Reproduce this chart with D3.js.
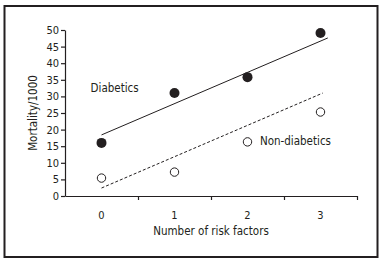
<!DOCTYPE html>
<html>
<head>
<meta charset="utf-8">
<script src="https://cdn.jsdelivr.net/npm/d3@7"></script>
<style>
  html, body { margin: 0; padding: 0; background: #fff; }
  svg text { font-family: "Liberation Sans Narrow", "DejaVu Sans Condensed", "Arial Narrow", sans-serif; fill: #231f20; }
</style>
</head>
<body>
<div id="chart"></div>
<script>
// Data
const riskFactors = [0, 1, 2, 3];
const diabetics = [16.0, 31.0, 35.8, 49.1];
const nonDiabetics = [5.4, 7.2, 16.3, 25.3];
// fitted trend lines (start / end), as drawn
const fitDiabetics = [[0, 18.4], [3.1, 47.6]];
const fitNonDiabetics = [[0, 2.4], [3.03, 31.0]];
const yTicks = [0, 5, 10, 15, 20, 25, 30, 35, 40, 45, 50];
const xBoundaries = [0.5, 1.5, 2.5, 3.5];

const width = 385, height = 263;
const margin = { top: 30, left: 65, right: 28, bottom: 67 };
const ink = '#231f20';

const svg = d3.select('#chart')
  .append('svg')
  .attr('width', width)
  .attr('height', height);

// outer frame
svg.append('rect')
  .attr('x', 4.5)
  .attr('y', 6)
  .attr('width', 373)
  .attr('height', 251)
  .attr('fill', 'none')
  .attr('stroke', ink)
  .attr('stroke-width', 2);

const x = d3.scaleLinear()
  .domain([-0.5, 3.5])
  .range([margin.left, width - margin.right]);

const y = d3.scaleLinear()
  .domain([0, 50])
  .range([height - margin.bottom, margin.top]);

// Y axis
const yAxis = svg.append('g')
  .attr('transform', `translate(${margin.left},0)`)
  .call(d3.axisLeft(y).tickValues(yTicks).tickSize(4).tickSizeOuter(0).tickPadding(2));

// X axis (tick marks at category boundaries)
const xAxis = svg.append('g')
  .attr('transform', `translate(0,${y(0)})`)
  .call(d3.axisBottom(x).tickValues(xBoundaries).tickFormat('').tickSize(4).tickSizeOuter(0));

[yAxis, xAxis].forEach(g => {
  g.selectAll('path, line').attr('stroke', ink).attr('stroke-width', 1.2);
  g.selectAll('text').attr('font-size', 11).attr('fill', '#333');
});

// category labels
svg.append('g')
  .selectAll('text')
  .data(riskFactors)
  .enter()
  .append('text')
  .attr('x', d => x(d))
  .attr('y', y(0) + 23)
  .attr('text-anchor', 'middle')
  .attr('font-size', 11)
  .text(d => d);

// axis titles
svg.append('text')
  .attr('x', (x.range()[0] + x.range()[1]) / 2)
  .attr('y', 235)
  .attr('text-anchor', 'middle')
  .attr('font-size', 11.5)
  .text('Number of risk factors');

svg.append('text')
  .attr('transform', `translate(37,${(y(0) + y(50)) / 2}) rotate(-90)`)
  .attr('text-anchor', 'middle')
  .attr('font-size', 11.5)
  .text('Mortality/1000');

// trend lines
const line = d3.line().x(d => x(d[0])).y(d => y(d[1]));

svg.append('path')
  .datum(fitDiabetics)
  .attr('d', line)
  .attr('fill', 'none')
  .attr('stroke', ink)
  .attr('stroke-width', 1);

svg.append('path')
  .datum(fitNonDiabetics)
  .attr('d', line)
  .attr('fill', 'none')
  .attr('stroke', ink)
  .attr('stroke-width', 1)
  .attr('stroke-dasharray', '3,2');

// points
svg.append('g')
  .selectAll('circle')
  .data(riskFactors)
  .enter()
  .append('circle')
  .attr('cx', d => x(d))
  .attr('cy', (d, i) => y(diabetics[i]))
  .attr('r', 5)
  .attr('fill', ink);

svg.append('g')
  .selectAll('circle')
  .data(riskFactors)
  .enter()
  .append('circle')
  .attr('cx', d => x(d))
  .attr('cy', (d, i) => y(nonDiabetics[i]))
  .attr('r', 4.2)
  .attr('fill', '#fff')
  .attr('stroke', ink)
  .attr('stroke-width', 1);

// series labels
svg.append('text')
  .attr('x', x(-0.15))
  .attr('y', y(31.3))
  .attr('font-size', 11.5)
  .text('Diabetics');

svg.append('text')
  .attr('x', x(2.17))
  .attr('y', y(15.4))
  .attr('font-size', 11.5)
  .text('Non-diabetics');
</script>
</body>
</html>
